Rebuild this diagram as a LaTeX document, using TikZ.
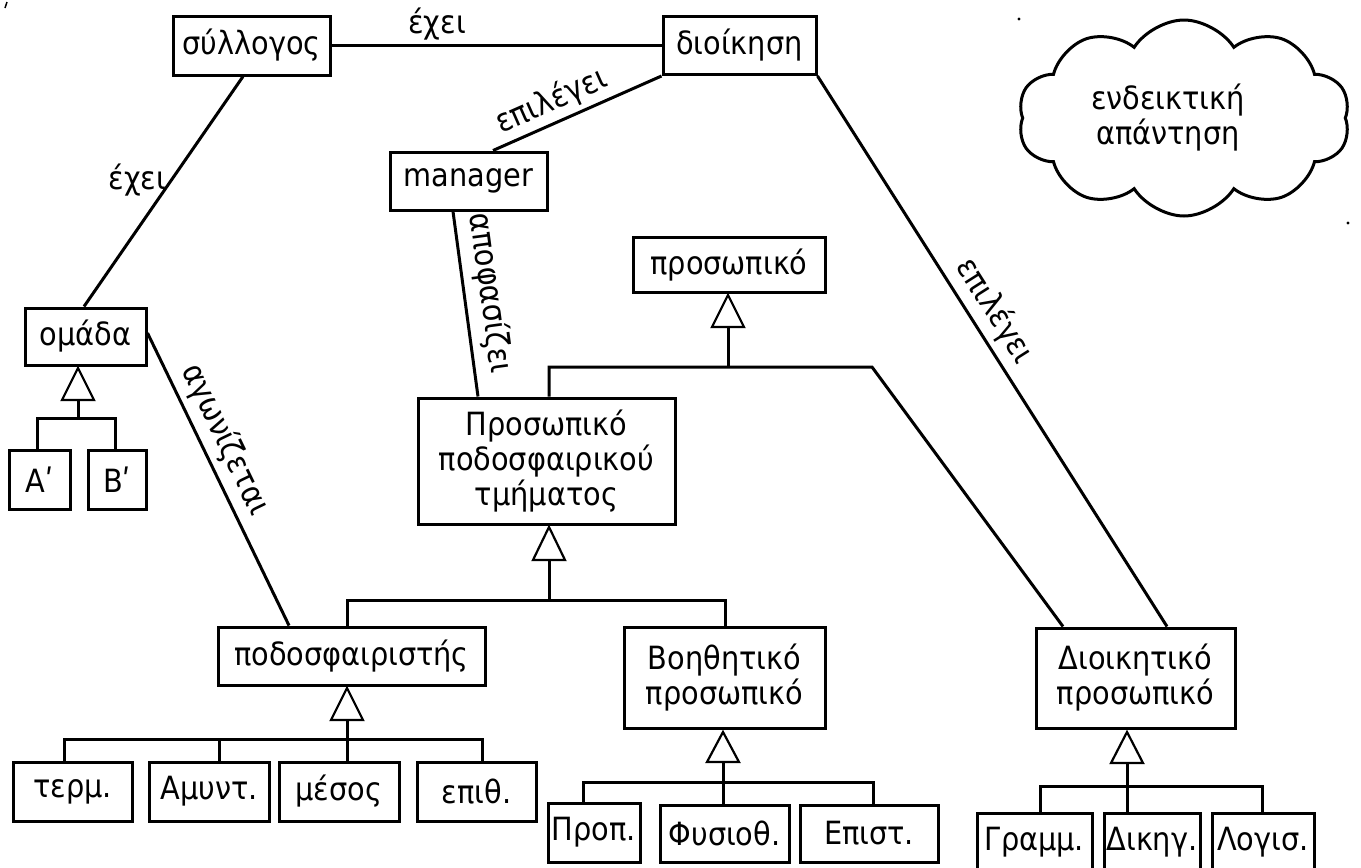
\documentclass[tikz,border=0pt]{standalone}
\usepackage{fontspec}
\IfFontExistsTF{DejaVu Sans Condensed}
  {\setmainfont{DejaVu Sans Condensed}\def\fsz{32}}
  {\setmainfont{DejaVu Sans}\def\fsz{29}}
\usetikzlibrary{shapes.symbols}
\newcommand\dfont{\fontsize{\fsz}{35}\selectfont}
\tikzset{
  box/.style={draw, line width=3pt, inner sep=0pt, align=center, font=\dfont, fill=white},
  conn/.style={line width=3pt},
  lbl/.style={font=\dfont, inner sep=4pt},
  gentri/.style={draw, fill=white, line width=2.2pt, line join=miter},
}
\begin{document}
\begin{tikzpicture}[x=1pt,y=-1pt]
\clip (0,0) rectangle (1361,868);
\fill[white] (0,0) rectangle (1361,868);

% helper coordinates
\coordinate (x84) at (84,0);
\coordinate (x243) at (243,0);
\coordinate (x289) at (289,0);
\coordinate (y333) at (0,333);
\coordinate (x453) at (453,0);
\coordinate (x478) at (478,0);
\coordinate (x493) at (493,0);
\coordinate (x1063) at (1063,0);
\coordinate (x1167) at (1167,0);

% nodes
\node[box, minimum width=157, minimum height=59] (syl) at (251.5,45.5) {σύλλογος};
\node[box, minimum width=153, minimum height=58] (dioik) at (739.5,45.5) {διοίκηση};
\node[box, minimum width=157, minimum height=58] (mgr) at (468.5,181) {manager};
\node[box, minimum width=192, minimum height=55] (pros) at (729,265) {προσωπικό};
\node[box, minimum width=257, minimum height=126] (ppt) at (546.5,461) {Προσωπικό\\ποδοσφαιρικού\\τμήματος};
\node[box, minimum width=121, minimum height=57] (omada) at (85.5,336.5) {ομάδα};
\node[box, minimum width=61, minimum height=59] (A) at (39.5,479.5) {Αʹ};
\node[box, minimum width=58, minimum height=59] (B) at (117,479.5) {Βʹ};
\node[box, minimum width=267, minimum height=58] (podo) at (351.5,656) {ποδοσφαιριστής};
\node[box, minimum width=201, minimum height=101] (boh) at (724.5,677.5) {Βοηθητικό\\προσωπικό};
\node[box, minimum width=199, minimum height=100] (dioikp) at (1135.5,678) {Διοικητικό\\προσωπικό};

\node[box, minimum width=119, minimum height=59] (term) at (72.5,791.5) {τερμ.};
\node[box, minimum width=120, minimum height=59] (amyn) at (209,791.5) {Αμυντ.};
\node[box, minimum width=120, minimum height=59] (mesos) at (339,791.5) {μέσος};
\node[box, minimum width=119, minimum height=59] (epith) at (476.5,791.5) {επιθ.};

\node[box, minimum width=92, minimum height=59] (prop) at (594,832.5) {Προπ.};
\node[box, minimum width=129, minimum height=57] (fysio) at (724.5,833.5) {Φυσιοθ.};
\node[box, minimum width=138, minimum height=57] (epist) at (869,833.5) {Επιστ.};

\node[box, minimum width=115, minimum height=58] (gramm) at (1034.5,842) {Γραμμ.};
\node[box, minimum width=96, minimum height=58] (dikig) at (1152,842) {Δικηγ.};
\node[box, minimum width=102, minimum height=58] (logis) at (1263,842) {Λογισ.};

% cloud
\node[cloud, draw, line width=3pt, cloud puffs=10, cloud puff arc=115, cloud ignores aspect,
      minimum width=332, minimum height=196] (cloud) at (1184,118) {};
\node[font=\dfont, align=center] (cloudtxt) at (1168,118) {ενδεικτική\\απάντηση};

% associations
\draw[conn] (syl.east) -- (dioik.west) node[lbl, above, pos=0.32] {έχει};
\draw[conn] (mgr.north -| x493) -- (dioik.south west) node[lbl, sloped, above, pos=0.4] {επιλέγει};
\draw[conn] (syl.south -| x243) -- (omada.north -| x84) node[lbl, left, pos=0.45] {έχει};
\draw[conn] (omada.east |- y333) -- (podo.north -| x289) node[lbl, sloped, above, pos=0.4, inner sep=6pt] {αγωνίζεται};
\draw[conn] (mgr.south -| x453) -- (ppt.north -| x478) node[lbl, sloped, above, pos=0.46, inner sep=8pt] {αποφασίζει};
\draw[conn] (dioik.south east) -- (dioikp.north -| x1167) node[lbl, sloped, above, pos=0.45, inner sep=6pt] {επιλέγει};

% generalisation: προσωπικό
\coordinate (ta) at (728,295);
\coordinate (tab) at (728,327);
\coordinate (jl) at (549,367);
\coordinate (jm) at (728,367);
\coordinate (jr) at (872,367);
\draw[conn] (tab) -- (jm);
\draw[conn] (ppt.north -| jl) -- (jl) -- (jr) -- (dioikp.north -| x1063);
\draw[gentri] (ta) -- ++(-16,32) -- ++(32,0) -- cycle;

% generalisation: ομάδα
\coordinate (tb) at (78,368);
\coordinate (tbb) at (78,400);
\coordinate (kl) at (37,418);
\coordinate (km) at (78,418);
\coordinate (kr) at (115,418);
\draw[conn] (tbb) -- (km);
\draw[conn] (A.north -| kl) -- (kl) -- (kr) -- (B.north -| kr);
\draw[gentri] (tb) -- ++(-16,32) -- ++(32,0) -- cycle;

% generalisation: Προσωπικό ποδοσφαιρικού τμήματος
\coordinate (tc) at (549,527);
\coordinate (tcb) at (549,560);
\coordinate (ml) at (347,600);
\coordinate (mm) at (549,600);
\coordinate (mr) at (725,600);
\draw[conn] (tcb) -- (mm);
\draw[conn] (podo.north -| ml) -- (ml) -- (mr) -- (boh.north -| mr);
\draw[gentri] (tc) -- ++(-16,33) -- ++(32,0) -- cycle;

% generalisation: ποδοσφαιριστής
\coordinate (td) at (347,688);
\coordinate (tdb) at (347,720);
\coordinate (pl) at (64,739);
\coordinate (p2) at (219,739);
\coordinate (pm) at (347,739);
\coordinate (pr) at (482,739);
\draw[conn] (tdb) -- (mesos.north -| pm);
\draw[conn] (term.north -| pl) -- (pl) -- (pr) -- (epith.north -| pr);
\draw[conn] (p2) -- (amyn.north -| p2);
\draw[gentri] (td) -- ++(-16,32) -- ++(32,0) -- cycle;

% generalisation: Βοηθητικό προσωπικό
\coordinate (te) at (723,732);
\coordinate (teb) at (723,762);
\coordinate (ql) at (583,782);
\coordinate (qr) at (873,782);
\draw[conn] (teb) -- (fysio.north -| teb);
\draw[conn] (prop.north -| ql) -- (ql) -- (qr) -- (epist.north -| qr);
\draw[gentri] (te) -- ++(-16,30) -- ++(32,0) -- cycle;

% generalisation: Διοικητικό προσωπικό
\coordinate (tf) at (1127,732);
\coordinate (tfb) at (1127,763);
\coordinate (rl) at (1040,786);
\coordinate (rr) at (1262,786);
\draw[conn] (tfb) -- (dikig.north -| tfb);
\draw[conn] (gramm.north -| rl) -- (rl) -- (rr) -- (logis.north -| rr);
\draw[gentri] (tf) -- ++(-16,31) -- ++(32,0) -- cycle;

% stray marks
\draw[line width=1.5pt] (7,2) -- (5,8);
\fill (1019,19) circle (1.6);
\fill (1348,223) circle (1.6);
\end{tikzpicture}
\end{document}
